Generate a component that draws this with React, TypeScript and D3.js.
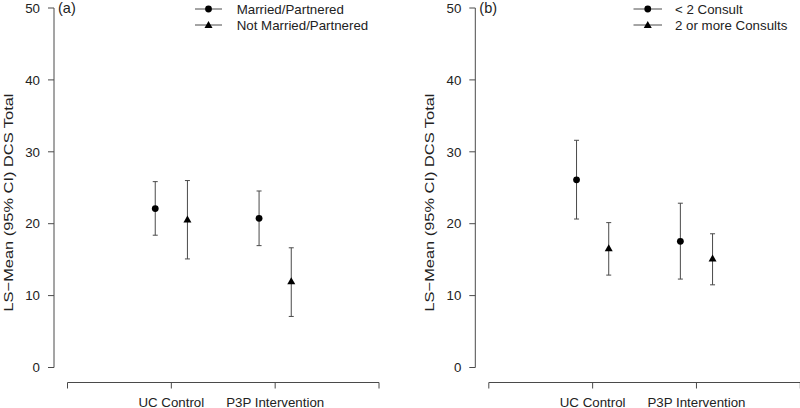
import React from "react";
import * as d3 from "d3";

const groups = ["UC Control", "P3P Intervention"];
const groupPos = [1, 2];
const yTicks = [0, 10, 20, 30, 40, 50];
const xTicks = [0, 1, 2, 3];

// Panel (a)
const aSeries = ["Married/Partnered", "Not Married/Partnered"];
const aMarriedMean = [22.1, 20.75];
const aMarriedLow = [18.4, 16.95];
const aMarriedHigh = [25.85, 24.55];
const aNotMean = [20.6, 12.0];
const aNotLow = [15.1, 7.1];
const aNotHigh = [26.0, 16.65];

// Panel (b)
const bSeries = ["< 2 Consult", "2 or more Consults"];
const bLt2Mean = [26.1, 17.55];
const bLt2Low = [20.65, 12.3];
const bLt2High = [31.6, 22.85];
const bGe2Mean = [16.6, 15.15];
const bGe2Low = [12.85, 11.5];
const bGe2High = [20.15, 18.6];

const FONT = "'Liberation Sans', Arial, Helvetica, sans-serif";
const LINE = "#4a4a4a";
const TXT = "#222";

type Ser = { name: string; shape: "circle" | "triangle"; mean: number[]; low: number[]; high: number[]; offset: number };

function Marker({ x, y, shape }: { x: number; y: number; shape: string }) {
  if (shape === "circle") return <circle cx={x} cy={y} r={3.4} fill="#000" />;
  const s = 4;
  return <path d={`M${x},${y - s}L${x + s},${y + s * 0.75}L${x - s},${y + s * 0.75}Z`} fill="#000" />;
}

function Panel({ ox, label, series, legendLine }: { ox: number; label: string; series: Ser[]; legendLine: [number, number, number] }) {
  const y = d3.scaleLinear().domain([0, 50]).range([367.5, 8]);
  const x = d3.scaleLinear().domain([0, 3]).range([ox + 13.5, ox + 325]);
  const axX = ox;
  const xAxisY = 382.5;
  const [l0, l1, tx] = legendLine;
  return (
    <g>
      {/* y axis */}
      <line x1={axX} x2={axX} y1={y(0)} y2={y(50)} stroke={LINE} />
      {yTicks.map((t) => (
        <g key={t}>
          <line x1={axX - 6} x2={axX} y1={y(t)} y2={y(t)} stroke={LINE} />
          <text x={axX - 14} y={y(t)} dy="0.36em" textAnchor="end" fontSize={13.3} fill={TXT} fontFamily={FONT}>{t}</text>
        </g>
      ))}
      <text
        transform={`translate(${axX - 41},202.5) rotate(-90)`}
        textAnchor="middle"
        fontSize={13.3}
        textLength={218}
        lengthAdjust="spacingAndGlyphs"
        fill={TXT}
        fontFamily={FONT}
      >LS−Mean (95% CI) DCS Total</text>
      <text x={axX + 4} y={13} fontSize={14.5} fill={TXT} fontFamily={FONT}>{label}</text>
      {/* x axis */}
      <line x1={x(0)} x2={x(3)} y1={xAxisY} y2={xAxisY} stroke={LINE} />
      {xTicks.map((t) => (
        <line key={t} x1={x(t)} x2={x(t)} y1={xAxisY} y2={xAxisY + 6} stroke={LINE} />
      ))}
      {groups.map((g, i) => (
        <text key={g} x={x(groupPos[i])} y={406.5} textAnchor="middle" fontSize={13.3} fill={TXT} fontFamily={FONT}>{g}</text>
      ))}
      {/* error bars and points */}
      {series.map((s) =>
        groupPos.map((gp, i) => {
          const cx = x(gp + s.offset);
          return (
            <g key={s.name + i}>
              <line x1={cx} x2={cx} y1={y(s.low[i])} y2={y(s.high[i])} stroke={LINE} />
              <line x1={cx - 2.5} x2={cx + 2.5} y1={y(s.low[i])} y2={y(s.low[i])} stroke={LINE} />
              <line x1={cx - 2.5} x2={cx + 2.5} y1={y(s.high[i])} y2={y(s.high[i])} stroke={LINE} />
              <Marker x={cx} y={y(s.mean[i])} shape={s.shape} />
            </g>
          );
        })
      )}
      {/* legend */}
      {series.map((s, k) => {
        const ly = 9 + k * 16;
        return (
          <g key={"leg" + s.name}>
            <line x1={l0} x2={l1} y1={ly} y2={ly} stroke={LINE} />
            <Marker x={(l0 + l1) / 2} y={ly} shape={s.shape} />
            <text x={tx} y={ly} dy="0.36em" fontSize={13.3} fill={TXT} fontFamily={FONT}>{s.name}</text>
          </g>
        );
      })}
    </g>
  );
}

export default function App() {
  const off = 0.155;
  const aSer: Ser[] = [
    { name: aSeries[0], shape: "circle", mean: aMarriedMean, low: aMarriedLow, high: aMarriedHigh, offset: -off },
    { name: aSeries[1], shape: "triangle", mean: aNotMean, low: aNotLow, high: aNotHigh, offset: off },
  ];
  const bSer: Ser[] = [
    { name: bSeries[0], shape: "circle", mean: bLt2Mean, low: bLt2Low, high: bLt2High, offset: -off },
    { name: bSeries[1], shape: "triangle", mean: bGe2Mean, low: bGe2Low, high: bGe2High, offset: off },
  ];
  return (
    <svg width={800} height={408} style={{ position: "absolute", left: 0, top: 0, background: "#fff" }}>
      <rect width={800} height={408} fill="#fff" />
      <Panel ox={54} label="(a)" series={aSer} legendLine={[195, 222, 236.7]} />
      <Panel ox={475.3} label="(b)" series={bSer} legendLine={[633.5, 662, 675]} />
    </svg>
  );
}
